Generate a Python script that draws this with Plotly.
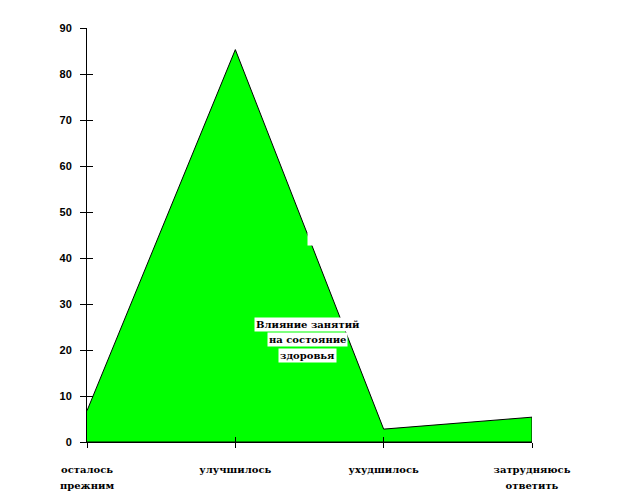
import plotly.graph_objects as go

category_line1 = ["осталось", "улучшилось", "ухудшилось", "затрудняюсь"]
category_line2 = ["прежним", "", "", "ответить"]
values = [6.8, 85.3, 2.8, 5.4]
y_ticks = [0, 10, 20, 30, 40, 50, 60, 70, 80, 90]
label_lines = ["Влияние занятий", "на состояние", "здоровья"]

idx = list(range(len(category_line1)))
poly_x = idx + [idx[-1], idx[0]]
poly_y = values + [0, 0]

SERIF = "DejaVu Serif"
SANS = "Liberation Sans"
cat_font = dict(family=SERIF, size=10, color="black", weight="bold")

fig = go.Figure()
fig.add_trace(go.Scatter(
    x=poly_x, y=poly_y, mode="lines", fill="toself",
    fillcolor="#00FF00", line=dict(color="black", width=1),
    hoverinfo="skip", showlegend=False,
))
# helper trace for the overlay axes (inner half of cross ticks, 2nd label line)
fig.add_trace(go.Scatter(
    x=[idx[0]], y=[0], xaxis="x2", yaxis="y2", mode="markers",
    marker=dict(opacity=0), hoverinfo="skip", showlegend=False,
))

# page body has an 8px default margin, so the figure is offset by 8px
fig.update_layout(
    width=611, height=491,
    margin=dict(l=79, r=87, t=20, b=57, autoexpand=False),
    paper_bgcolor="white", plot_bgcolor="white",
    showlegend=False,
    xaxis=dict(
        range=[0, 3], tickvals=idx, ticktext=category_line1,
        showline=True, linecolor="black", linewidth=1,
        ticks="outside", ticklen=5, tickcolor="black", tickwidth=1,
        showgrid=False, zeroline=False, automargin=False,
        tickfont=cat_font, ticklabelstandoff=13,
    ),
    yaxis=dict(
        range=[0, 90], tickvals=y_ticks,
        showline=True, linecolor="black", linewidth=1,
        ticks="outside", ticklen=6, tickcolor="black", tickwidth=1,
        showgrid=False, zeroline=False, automargin=False,
        tickfont=dict(family=SANS, size=11, color="black", weight="bold"),
        ticklabelstandoff=6,
    ),
    xaxis2=dict(
        range=[0, 3], tickvals=idx, ticktext=category_line2,
        overlaying="x", anchor="y2", side="bottom",
        showline=False, ticks="inside", ticklen=5, tickcolor="black",
        showticklabels=True, tickfont=cat_font, ticklabelstandoff=36,
        showgrid=False, zeroline=False, automargin=False,
    ),
    yaxis2=dict(
        range=[0, 90], tickvals=y_ticks, overlaying="y", anchor="x2",
        showline=False, ticks="inside", ticklen=6, tickcolor="black",
        showticklabels=False, showgrid=False, zeroline=False, automargin=False,
    ),
)

# small white notch seen in the original picture
fig.add_shape(type="rect", xref="paper", yref="paper",
              x0=0.4955, x1=0.5135, y0=0.4746, y1=0.5048,
              fillcolor="white", line=dict(width=0), layer="above")

label_y = [0.285, 0.2465, 0.208]
for text, yy in zip(label_lines, label_y):
    fig.add_annotation(
        x=0.4966, y=yy, xref="paper", yref="paper",
        text=text, showarrow=False, xanchor="center", yanchor="middle",
        bgcolor="white", borderpad=1,
        font=dict(family=SERIF, size=10, color="black", weight="bold"),
    )

fig.write_html("out.html")
